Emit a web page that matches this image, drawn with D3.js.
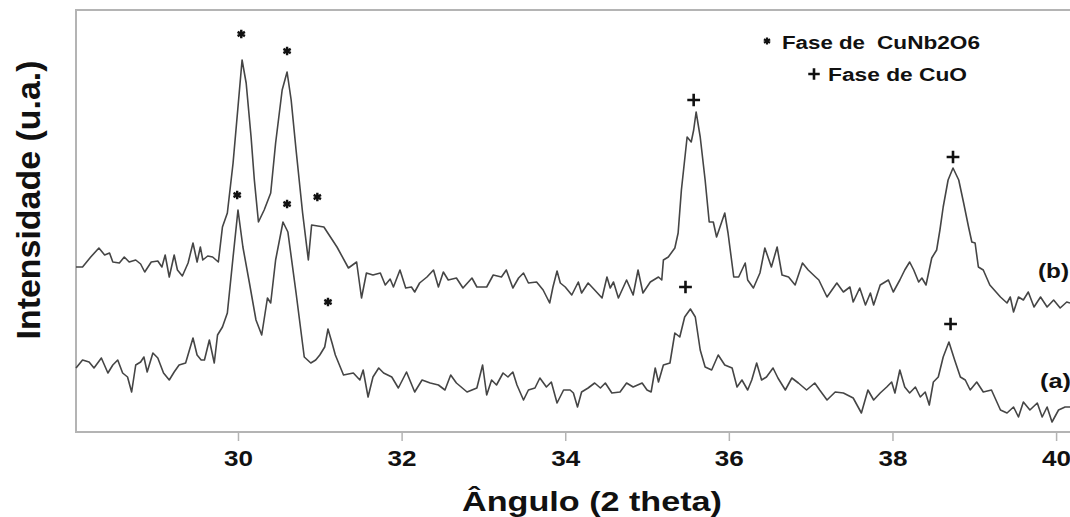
<!DOCTYPE html>
<html><head><meta charset="utf-8">
<script src="https://cdn.jsdelivr.net/npm/d3@7"></script>
<style>body{margin:0;background:#fff;} svg{display:block;font-family:"Liberation Sans",Arial,sans-serif;}</style>
</head><body><svg id="c" width="1070" height="517"></svg>
<script>
// ---- data (2 theta in degrees, intensity in arbitrary units) ----
const twoThetaB = [28.02,28.10,28.20,28.30,28.37,28.43,28.47,28.55,28.61,28.67,28.75,28.81,28.86,28.94,29.02,29.07,29.11,29.16,29.22,29.26,29.32,29.39,29.45,29.50,29.54,29.57,29.63,29.69,29.76,29.81,29.87,29.94,30.00,30.05,30.10,30.16,30.20,30.25,30.32,30.40,30.46,30.54,30.60,30.65,30.71,30.79,30.86,30.90,31.05,31.21,31.35,31.45,31.51,31.57,31.65,31.74,31.80,31.86,31.90,31.98,32.05,32.12,32.16,32.22,32.31,32.39,32.45,32.51,32.57,32.67,32.75,32.86,32.92,33.04,33.12,33.22,33.28,33.36,33.43,33.49,33.55,33.65,33.73,33.81,33.85,33.90,33.94,34.00,34.08,34.16,34.20,34.28,34.36,34.45,34.51,34.55,34.59,34.65,34.75,34.83,34.89,34.95,35.04,35.14,35.18,35.20,35.26,35.34,35.38,35.42,35.49,35.54,35.57,35.60,35.65,35.71,35.76,35.81,35.85,35.95,35.99,36.06,36.12,36.20,36.23,36.30,36.38,36.44,36.52,36.59,36.65,36.73,36.81,36.90,36.97,37.06,37.10,37.20,37.32,37.40,37.48,37.52,37.60,37.67,37.73,37.77,37.85,37.95,38.01,38.09,38.15,38.21,38.26,38.32,38.36,38.41,38.48,38.54,38.58,38.62,38.68,38.74,38.81,38.87,38.93,38.97,39.01,39.05,39.11,39.19,39.32,39.40,39.44,39.48,39.54,39.60,39.66,39.73,39.81,39.89,39.97,40.05,40.13,40.17];
const intensityB = [165,165,175,184,177,179,170,169,175,170,172,168,160,170,171,165,177,155,177,162,156,169,189,170,185,172,176,175,170,205,219,269,325,372,349,295,252,210,222,239,289,342,360,332,282,219,172,207,205,185,164,170,134,159,157,159,147,153,145,162,144,145,140,149,155,162,145,160,152,154,144,154,145,145,157,155,162,144,154,159,149,150,142,129,145,161,149,145,137,150,139,149,142,134,155,144,150,134,152,137,162,139,150,155,152,172,175,184,199,242,295,290,302,320,295,252,210,210,195,219,199,155,155,169,152,144,159,184,165,185,157,155,147,169,162,155,152,135,149,140,145,130,144,127,139,127,147,152,140,152,162,170,162,150,154,147,174,182,202,225,252,264,252,229,205,190,189,165,162,147,135,129,135,120,135,132,140,125,135,125,132,124,130,129];

const twoThetaA = [28.02,28.10,28.18,28.24,28.33,28.41,28.47,28.53,28.59,28.65,28.70,28.75,28.81,28.85,28.89,28.96,29.02,29.09,29.16,29.22,29.28,29.36,29.45,29.50,29.55,29.59,29.65,29.71,29.75,29.81,29.87,29.94,30.00,30.06,30.14,30.22,30.29,30.36,30.40,30.46,30.55,30.61,30.71,30.81,30.89,30.95,31.00,31.06,31.10,31.15,31.19,31.29,31.41,31.49,31.53,31.59,31.65,31.72,31.78,31.88,31.96,32.06,32.16,32.25,32.35,32.45,32.53,32.60,32.67,32.80,32.92,32.99,33.04,33.10,33.16,33.24,33.30,33.36,33.41,33.49,33.55,33.63,33.69,33.77,33.83,33.90,33.98,34.06,34.10,34.15,34.20,34.28,34.36,34.43,34.49,34.57,34.67,34.75,34.83,34.94,35.00,35.05,35.10,35.14,35.20,35.28,35.34,35.40,35.46,35.53,35.59,35.65,35.71,35.79,35.87,35.95,36.04,36.10,36.16,36.23,36.28,36.34,36.40,36.46,36.54,36.60,36.69,36.77,36.85,36.95,37.05,37.11,37.20,37.30,37.40,37.52,37.62,37.70,37.77,37.85,37.93,37.99,38.03,38.09,38.15,38.21,38.28,38.34,38.40,38.45,38.50,38.56,38.62,38.69,38.76,38.83,38.89,38.95,39.03,39.11,39.21,39.32,39.40,39.48,39.54,39.60,39.68,39.77,39.83,39.89,39.95,40.03,40.11,40.17];
const intensityA = [64,72,70,64,74,59,67,72,59,55,40,67,70,75,60,79,74,59,52,60,67,69,94,77,72,72,92,69,97,105,119,175,222,185,149,112,97,134,129,172,210,200,139,75,69,72,77,85,103,89,77,57,59,52,62,35,55,64,59,55,44,60,40,52,49,47,42,57,49,40,44,67,37,52,47,59,55,60,47,32,42,44,54,45,50,29,42,42,39,25,40,44,49,44,49,39,40,49,45,49,42,40,64,50,67,69,99,95,115,123,115,82,65,62,77,67,64,45,52,42,52,69,52,55,64,54,42,54,49,42,49,42,32,40,39,34,19,42,32,39,45,50,39,62,45,39,45,35,40,27,50,55,75,90,72,55,52,42,50,40,42,22,19,25,15,30,22,29,15,25,10,22,25,25];

// phase markers: * = CuNb2O6, + = CuO
const starTheta = [30.04, 30.60, 30.97, 29.99, 30.60, 31.10];
const starIntensity = [398, 381, 235, 237, 228, 130];
const plusTheta = [35.57, 38.74, 35.47, 38.71];
const plusIntensity = [332, 275, 145, 108];

const xTicks = [30, 32, 34, 36, 38, 40];
const seriesLabels = ["(b)", "(a)"];
const seriesLabelIntensity = [160, 50];

// ---- drawing ----
const svg = d3.select("#c");
const x = d3.scaleLinear().domain([28.02, 40.17]).range([76, 1070]);
const y = d3.scaleLinear().domain([0, 422]).range([432, 10]);

// frame
svg.append("path")
  .attr("d", "M1071,10H76V432H1071")
  .attr("fill", "none").attr("stroke", "#b4b4b4").attr("stroke-width", 2);

// x axis
const ax = svg.append("g").attr("transform", "translate(0,432)")
  .call(d3.axisBottom(x).tickValues(xTicks).tickSize(9).tickFormat(d3.format("d")));
ax.select(".domain").remove();
ax.selectAll(".tick line").attr("stroke", "#b4b4b4").attr("stroke-width", 1.5);
ax.selectAll(".tick text")
  .attr("y", 34).attr("dy", 0)
  .attr("fill", "#111").attr("font-size", 22).attr("font-weight", "bold")
  .attr("font-family", "Liberation Sans, Arial, sans-serif")
  .attr("textLength", 29).attr("lengthAdjust", "spacingAndGlyphs");

// curves
const line = d3.line().x(d => x(d[0])).y(d => y(d[1]));
const dataB = twoThetaB.map((t, i) => [t, intensityB[i]]);
const dataA = twoThetaA.map((t, i) => [t, intensityA[i]]);
[dataB, dataA].forEach(d => {
  svg.append("path").datum(d).attr("d", line)
    .attr("fill", "none").attr("stroke", "#454545").attr("stroke-width", 1.6)
    .attr("stroke-linejoin", "round");
});

// markers
const star = d3.symbol().type(d3.symbolAsterisk).size(50);
starTheta.forEach((t, i) => {
  svg.append("path").attr("d", star())
    .attr("transform", `translate(${x(t)},${y(starIntensity[i])})`)
    .attr("fill", "none").attr("stroke", "#111").attr("stroke-width", 2.4);
});
const plus = d3.symbol().type(d3.symbolPlus).size(55);
plusTheta.forEach((t, i) => {
  svg.append("path").attr("d", plus())
    .attr("transform", `translate(${x(t)},${y(plusIntensity[i])})`)
    .attr("fill", "none").attr("stroke", "#111").attr("stroke-width", 2.6);
});

// series labels
seriesLabels.forEach((s, i) => {
  svg.append("text").attr("x", i === 0 ? 1038 : 1040).attr("y", y(seriesLabelIntensity[i]) + 6)
    .attr("font-size", 20).attr("font-weight", "bold").attr("fill", "#111")
    .attr("textLength", 31).attr("lengthAdjust", "spacingAndGlyphs").text(s);
});

// legend
const lg = svg.append("g").attr("font-weight", "bold").attr("fill", "#111");
lg.append("path").attr("d", d3.symbol().type(d3.symbolAsterisk).size(35)()).attr("transform", "translate(767,41)")
  .attr("fill", "none").attr("stroke", "#111").attr("stroke-width", 2.2);
lg.append("text").attr("x", 782).attr("y", 49).attr("font-size", 18)
  .attr("textLength", 83).attr("lengthAdjust", "spacingAndGlyphs").text("Fase de");
lg.append("text").attr("x", 877).attr("y", 49).attr("font-size", 18)
  .attr("textLength", 103).attr("lengthAdjust", "spacingAndGlyphs").text("CuNb2O6");
lg.append("path").attr("d", d3.symbol().type(d3.symbolPlus).size(45)()).attr("transform", "translate(814,74)")
  .attr("fill", "none").attr("stroke", "#111").attr("stroke-width", 2.6);
lg.append("text").attr("x", 828).attr("y", 81).attr("font-size", 18)
  .attr("textLength", 139).attr("lengthAdjust", "spacingAndGlyphs").text("Fase de CuO");

// axis titles
svg.append("text").attr("x", 592).attr("y", 511).attr("text-anchor", "middle")
  .attr("font-size", 27).attr("font-weight", "bold").attr("fill", "#111")
  .attr("textLength", 260).attr("lengthAdjust", "spacingAndGlyphs").text("Ângulo (2 theta)");
svg.append("text").attr("transform", "translate(40,200) rotate(-90)").attr("text-anchor", "middle")
  .attr("font-size", 33).attr("font-weight", "bold").attr("fill", "#111")
  .attr("textLength", 279).attr("lengthAdjust", "spacingAndGlyphs").text("Intensidade (u.a.)");
</script>
</body></html>
